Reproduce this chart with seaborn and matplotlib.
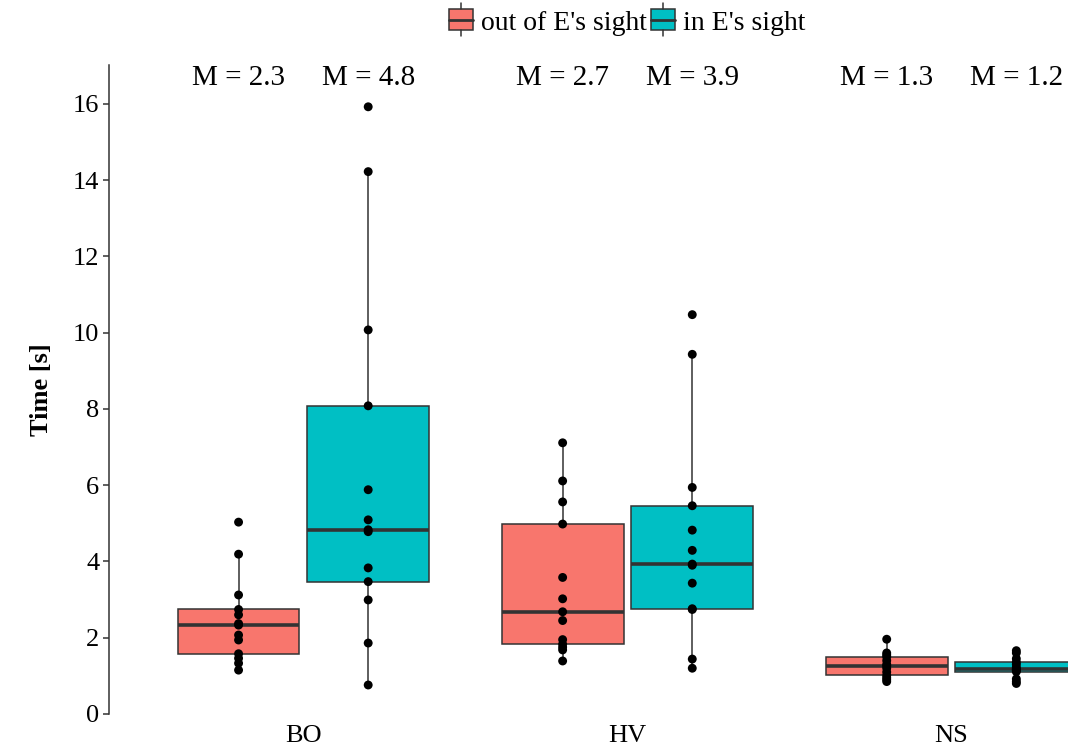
import numpy as np
import pandas as pd
import matplotlib
matplotlib.use("Agg")
import matplotlib.pyplot as plt
import seaborn as sns
from matplotlib.patches import Patch, Rectangle
from matplotlib.lines import Line2D
from matplotlib.legend_handler import HandlerBase

# data (13 participants per cell)
groups = ['BO', 'HV', 'NS']
conditions = ["out of E's sight", "in E's sight"]
colors = ['#F8766D', '#00BFC4']

bo_out = [1.15, 1.33, 1.46, 1.58, 1.94, 2.07, 2.33, 2.37, 2.60, 2.74, 3.12, 4.19, 5.03]
bo_in = [0.76, 1.86, 2.99, 3.47, 3.83, 4.78, 4.83, 5.09, 5.88, 8.08, 10.07, 14.22, 15.92]
hv_out = [1.39, 1.68, 1.75, 1.83, 1.95, 2.45, 2.68, 3.02, 3.58, 4.98, 5.56, 6.11, 7.11]
hv_in = [1.20, 1.44, 2.74, 2.76, 3.43, 3.90, 3.93, 4.29, 4.82, 5.46, 5.94, 9.43, 10.47]
ns_out = [0.85, 0.90, 0.95, 1.01, 1.10, 1.20, 1.26, 1.30, 1.40, 1.50, 1.55, 1.60, 1.96]
ns_in = [0.80, 0.85, 0.92, 1.11, 1.14, 1.16, 1.18, 1.22, 1.30, 1.36, 1.45, 1.60, 1.66]

median_labels = ['M = 2.3', 'M = 4.8', 'M = 2.7', 'M = 3.9', 'M = 1.3', 'M = 1.2']

cells = [('BO', conditions[0], bo_out), ('BO', conditions[1], bo_in),
         ('HV', conditions[0], hv_out), ('HV', conditions[1], hv_in),
         ('NS', conditions[0], ns_out), ('NS', conditions[1], ns_in)]
rows = []
for g, c, vals in cells:
    for v in vals:
        rows.append({'group': g, 'cond': c, 'time': v})
df = pd.DataFrame(rows)


class BoxKey(HandlerBase):
    # ggplot-like boxplot legend key
    def create_artists(self, legend, orig_handle, xd, yd, w, h, fontsize, trans):
        x0, y0 = xd, yd
        fc = orig_handle.get_facecolor()
        rect = Rectangle((x0, y0 + h * 0.0), w, h * 1.0, facecolor=fc,
                         edgecolor='#333333', lw=1.1, transform=trans)
        med = Line2D([x0, x0 + w], [y0 + h * 0.5] * 2, color='#333333', lw=2, transform=trans)
        top = Line2D([x0 + w / 2] * 2, [y0 + h * 1.0, y0 + h * 1.3], color='#333333', lw=1.1, transform=trans)
        bot = Line2D([x0 + w / 2] * 2, [y0, y0 - h * 0.3], color='#333333', lw=1.1, transform=trans)
        return [rect, med, top, bot]


sns.set_style('white')
plt.rcParams['font.family'] = ['Liberation Serif', 'DejaVu Serif']
plt.rcParams['text.color'] = 'black'
plt.rcParams['axes.labelcolor'] = 'black'
plt.rcParams['xtick.color'] = 'black'
plt.rcParams['ytick.color'] = 'black'

fig = plt.figure(figsize=(10.68, 7.47), dpi=100)
ax = fig.add_axes([0.102, 0.0442, 0.971, 0.869])

sns.boxplot(data=df, x='group', y='time', hue='cond', order=groups, hue_order=conditions,
            palette=colors, saturation=1, width=0.8, gap=0.06, showfliers=False, showcaps=False,
            linecolor='#333333', linewidth=1.1,
            medianprops={'color': '#333333', 'linewidth': 2.6},
            legend=False, ax=ax)
sns.stripplot(data=df, x='group', y='time', hue='cond', order=groups, hue_order=conditions,
              palette=['black', 'black'], dodge=True, jitter=False, size=6.4,
              legend=False, ax=ax, zorder=5)

# median labels above each box
for i, lab in enumerate(median_labels):
    xpos = i // 2 + (-0.2 if i % 2 == 0 else 0.2)
    ax.text(xpos, 16.68, lab, ha='center', va='center', fontsize=21)

ax.set_xlim(-0.6, 2.6)
ax.set_ylim(0, 17.02)
ax.set_yticks(np.arange(0, 17, 2))
ax.set_xlabel('')
ax.set_ylabel('Time [s]', fontsize=19, fontweight='bold', labelpad=14)

for s in ['top', 'right', 'bottom']:
    ax.spines[s].set_visible(False)
ax.spines['left'].set_color('#333333')
ax.spines['left'].set_linewidth(1.1)
ax.tick_params(axis='y', length=4, width=1.1, color='#333333', labelsize=19, pad=3, left=True)
ax.tick_params(axis='x', length=0, labelsize=19, pad=8)

handles = [Patch(facecolor=colors[0]), Patch(facecolor=colors[1])]
ax.legend(handles, conditions, handler_map={Patch: BoxKey()}, loc='center',
          bbox_to_anchor=(0.5, 1.064), ncol=2, frameon=False, fontsize=20,
          handlelength=0.85, handleheight=0.75, handletextpad=0.3, columnspacing=0.15)

plt.savefig('out.png', dpi=100)
